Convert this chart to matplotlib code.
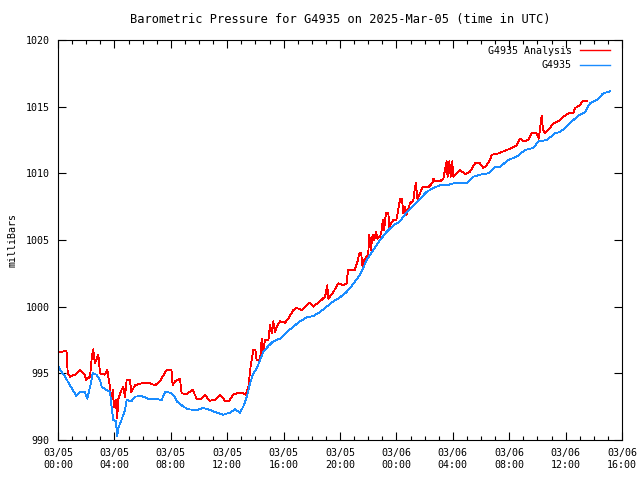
import numpy as np
import pandas as pd
import matplotlib
matplotlib.use("Agg")
import matplotlib.pyplot as plt
import matplotlib.dates as mdates

plt.rcParams['font.family'] = 'DejaVu Sans Mono'
plt.rcParams['font.size'] = 7.2

START = pd.Timestamp("2025-03-05 00:00")

# hours since 03/05 00:00 UTC, pressure in mb
obs_hours = [0.0, 0.2, 0.5, 0.85, 1.2, 1.3, 1.56, 1.9, 2.08, 2.34, 2.46, 2.74, 2.98, 3.1,
             3.45, 3.69, 3.8, 3.92, 4.1, 4.2, 4.28, 4.5, 4.75, 4.87, 5.2, 5.46, 5.93, 6.4,
             6.88, 7.35, 7.6, 7.94, 8.25, 8.42, 8.9, 9.24, 9.84, 10.3, 10.78, 11.25, 11.72,
             12.2, 12.55, 12.9, 13.14, 13.38, 13.62, 13.85, 14.09, 14.33, 14.56, 14.92,
             15.27, 15.74, 16.22, 16.69, 17.16, 17.64, 18.1, 18.58, 19.06, 19.53, 20.0,
             20.47, 20.94, 21.42, 21.9, 22.36, 22.84, 23.3, 23.78, 24.26, 24.73, 25.2,
             25.67, 26.14, 26.6, 27.09, 27.56, 28.04, 28.46, 28.98, 29.46, 29.93, 30.52,
             31.0, 31.35, 31.94, 32.53, 33.12, 33.71, 34.06, 34.66, 35.25, 35.6, 36.08,
             36.55, 37.02, 37.38, 37.73, 38.2, 38.67, 39.15]
obs_mb = [995.55, 995.2, 994.75, 994.1, 993.5, 993.3, 993.6, 993.6, 993.1, 994.3, 995.0,
          994.9, 994.5, 994.0, 993.75, 993.6, 992.5, 991.5, 991.4, 990.3, 990.9, 991.5,
          992.25, 993.0, 992.9, 993.25, 993.3, 993.1, 993.1, 993.0, 993.6, 993.55, 993.3,
          992.9, 992.5, 992.3, 992.25, 992.4, 992.25, 992.05, 991.9, 992.05, 992.3, 992.05,
          992.5, 993.2, 994.25, 995.0, 995.35, 996.0, 996.6, 997.05, 997.4, 997.6, 998.1,
          998.5, 998.9, 999.2, 999.3, 999.6, 1000.0, 1000.4, 1000.7, 1001.1, 1001.7,
          1002.4, 1003.5, 1004.25, 1005.0, 1005.6, 1006.1, 1006.4, 1007.1, 1007.6, 1008.1,
          1008.6, 1008.9, 1009.1, 1009.1, 1009.25, 1009.3, 1009.25, 1009.75, 1009.9,
          1010.0, 1010.5, 1010.5, 1011.0, 1011.25, 1011.75, 1011.9, 1012.4, 1012.5,
          1013.0, 1013.1, 1013.5, 1014.0, 1014.4, 1014.6, 1015.25, 1015.5, 1016.0, 1016.15]

ana_hours = [0.0, 0.6, 0.69, 0.85, 1.2, 1.56, 1.9, 2.0, 2.27, 2.4, 2.5, 2.62, 2.86, 2.98,
             3.3, 3.5, 3.69, 3.76, 3.88, 3.97, 4.09, 4.2, 4.28, 4.5, 4.63, 4.75, 4.87, 5.1,
             5.2, 5.46, 5.93, 6.4, 6.88, 7.23, 7.7, 8.05, 8.13, 8.3, 8.65, 8.77, 9.12, 9.55,
             9.84, 10.19, 10.43, 10.73, 11.13, 11.49, 11.84, 12.15, 12.43, 12.79, 13.14,
             13.3, 13.5, 13.66, 13.85, 14.0, 14.09, 14.33, 14.45, 14.56, 14.68, 14.92, 15.04,
             15.16, 15.27, 15.39, 15.51, 15.74, 16.1, 16.33, 16.69, 16.93, 17.28, 17.64,
             17.87, 18.1, 18.58, 18.94, 19.1, 19.17, 19.53, 19.88, 20.23, 20.47, 20.57,
             21.04, 21.25, 21.37, 21.5, 21.6, 21.7, 22.0, 22.08, 22.18, 22.32, 22.43, 22.55,
             22.65, 22.84, 22.96, 23.03, 23.12, 23.26, 23.43, 23.5, 23.55, 23.78, 24.0,
             24.26, 24.4, 24.49, 24.6, 24.73, 24.96, 25.2, 25.32, 25.39, 25.48, 25.67, 25.86,
             26.26, 26.57, 26.62, 26.75, 27.09, 27.33, 27.56, 27.63, 27.75, 27.85, 27.96,
             28.04, 28.27, 28.5, 28.87, 29.2, 29.57, 29.93, 30.16, 30.4, 30.64, 30.76, 31.11,
             31.47, 31.82, 32.18, 32.53, 32.77, 33.0, 33.36, 33.6, 33.95, 34.1, 34.3, 34.4,
             34.54, 34.77, 35.13, 35.48, 35.84, 36.2, 36.55, 36.67, 37.02, 37.2, 37.53]
ana_mb = [996.55, 996.7, 995.0, 994.75, 994.9, 995.25, 994.9, 994.5, 994.75, 996.25, 996.8,
          995.75, 996.4, 995.0, 994.9, 995.25, 993.9, 992.8, 993.75, 992.5, 993.0, 991.65,
          993.1, 993.75, 994.0, 993.25, 994.5, 994.5, 993.6, 994.1, 994.25, 994.3, 994.1,
          994.4, 995.25, 995.25, 994.1, 994.4, 994.6, 993.5, 993.45, 993.75, 993.1, 993.1,
          993.4, 992.95, 993.0, 993.4, 992.95, 992.95, 993.4, 993.55, 993.5, 993.4, 994.0,
          995.5, 996.75, 996.75, 996.0, 996.0, 997.6, 996.75, 997.5, 997.5, 998.6, 998.0,
          998.9, 998.1, 998.5, 998.9, 998.8, 999.1, 999.75, 999.9, 999.75, 1000.1, 1000.3,
          1000.0, 1000.4, 1000.75, 1001.6, 1000.6, 1001.1, 1001.75, 1001.6, 1001.75,
          1002.75, 1002.75, 1003.4, 1004.0, 1004.0, 1003.0, 1003.5, 1003.9, 1005.4, 1004.25,
          1005.4, 1005.0, 1005.6, 1005.1, 1005.25, 1005.75, 1006.5, 1005.75, 1007.0, 1007.0,
          1005.9, 1006.1, 1006.5, 1006.5, 1008.05, 1008.05, 1007.0, 1007.5, 1006.9, 1007.75,
          1007.95, 1009.0, 1009.25, 1008.1, 1008.5, 1008.95, 1008.95, 1009.3, 1009.6,
          1009.4, 1009.4, 1009.6, 1010.9, 1009.75, 1010.9, 1009.75, 1010.9, 1009.75, 1010.0,
          1010.25, 1009.95, 1010.1, 1010.75, 1010.75, 1010.4, 1010.6, 1011.0, 1011.4,
          1011.45, 1011.6, 1011.75, 1011.9, 1012.1, 1012.6, 1012.4, 1012.5, 1013.0, 1013.0,
          1012.6, 1014.3, 1013.25, 1013.0, 1013.25, 1013.75, 1013.9, 1014.25, 1014.5,
          1014.5, 1014.9, 1015.1, 1015.4, 1015.45]

obs_t = START + pd.to_timedelta(obs_hours, unit="h")
ana_t = START + pd.to_timedelta(ana_hours, unit="h")

fig = plt.figure(figsize=(6.4, 4.8), dpi=100)
ax = fig.add_axes([58 / 640, 40 / 480, 564 / 640, 400 / 480])

ax.plot(ana_t, ana_mb, color="#ff0000", lw=0.6, antialiased=False, label="G4935 Analysis")
ax.plot(obs_t, obs_mb, color="#1a8cff", lw=0.6, antialiased=False, label="G4935")

ax.set_xlim(START, START + pd.Timedelta(hours=40))
ax.set_ylim(990, 1020)
ax.set_yticks(np.arange(990, 1021, 5))
ax.xaxis.set_major_locator(mdates.HourLocator(byhour=range(0, 24, 4)))
ax.xaxis.set_minor_locator(mdates.HourLocator())
ax.xaxis.set_major_formatter(mdates.DateFormatter("%m/%d\n%H:%M"))

ax.tick_params(which="both", direction="in", top=True, right=True, width=0.8, color="black")
ax.tick_params(which="major", length=6, pad=6)
ax.tick_params(which="minor", length=3)
ax.tick_params(axis="y", pad=6)
for s in ax.spines.values():
    s.set_linewidth(0.8)

ax.set_ylabel("milliBars", labelpad=6)
ax.set_title("Barometric Pressure for G4935 on 2025-Mar-05 (time in UTC)", pad=12)

leg = ax.legend(loc="upper right", bbox_to_anchor=(1 - 12 / 564, 1 - 6 / 400),
                frameon=False, markerfirst=False, handlelength=3.0, handletextpad=0.8,
                labelspacing=0.45, borderaxespad=0, borderpad=0)
for line in leg.get_lines():
    line.set_linewidth(1.0)

fig.savefig("out.png", dpi=100)
